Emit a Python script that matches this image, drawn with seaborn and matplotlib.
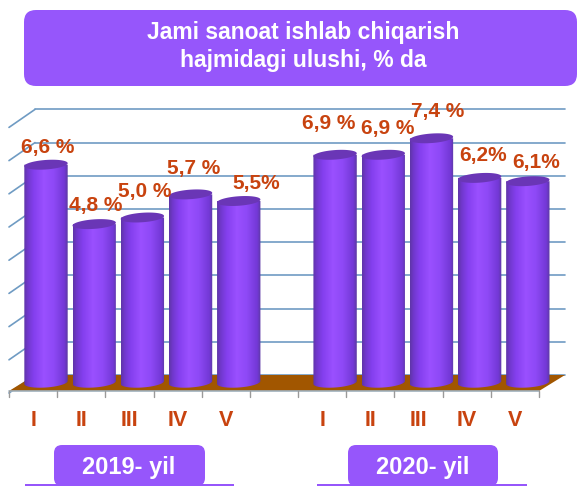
import numpy as np
import pandas as pd
import matplotlib
matplotlib.use('Agg')
import matplotlib.pyplot as plt
from matplotlib.colors import LinearSegmentedColormap
from matplotlib.patches import FancyBboxPatch, Polygon
import seaborn as sns

#%% data
quarters = ['I', 'II', 'III', 'IV', 'V']
values_2019 = [6.6, 4.8, 5.0, 5.7, 5.5]
values_2020 = [6.9, 6.9, 7.4, 6.2, 6.1]
labels_2019 = ['6,6 %', '4,8 %', '5,0 %', '5,7 %', '5,5%']
labels_2020 = ['6,9 %', '6,9 %', '7,4 %', '6,2%', '6,1%']
title_lines = ['Jami sanoat ishlab chiqarish', 'hajmidagi ulushi, % da']
grid_values = [0, 1, 2, 3, 4, 5, 6, 7, 8]

# label offsets from the bar top, in pixels
offsets_x = [2, 1.5, 2.5, 3, 17, -6, 4, 6, 3, 8]
offsets_y = [17, 19, 26, 26, 18, 31, 26, 27, 22, 19]

W, H = 578, 486
sns.set_theme(style='white')
plt.rcParams['font.family'] = ['Liberation Sans', 'DejaVu Sans']

fig = plt.figure(figsize=(W / 100, H / 100), dpi=100, facecolor='white')

#%% background in pixel coordinates
bg = fig.add_axes([0, 0, 1, 1], zorder=0)
bg.set_xlim(0, W)
bg.set_ylim(H, 0)
bg.axis('off')

purple = '#9656FB'
red = '#C8430F'
line_col = '#6F9BC3'
front_l, front_r, front_y = 9, 539, 391
back_l, back_r, back_y = 35, 565, 375
step = (front_r - front_l) / 11

bg.add_patch(Polygon([(front_l, front_y), (back_l, back_y), (back_r, back_y), (front_r, front_y)],
                     closed=True, fc='#A15600', ec='none', zorder=2))
for v in grid_values:
    y = back_y - v * 33.2
    bg.plot([back_l, back_r], [y, y], color=line_col, lw=1.2, zorder=1)
    bg.plot([front_l, back_l], [y + 18, y], color=line_col, lw=1.2, zorder=1)
bg.plot([front_l, front_r], [front_y, front_y], color='#9FB0BC', lw=1.2, zorder=3)
for i in range(12):
    x = front_l + i * step
    bg.plot([x, x], [front_y, front_y + 6], color='#9A9A9A', lw=1, zorder=3)

cats = quarters + [''] + quarters
for i, c in enumerate(cats):
    bg.text(front_l + (i + 0.5) * step, 420, c, color=red, fontsize=15.5, fontweight='bold',
            ha='center', va='center')


def box(x0, y0, x1, y1, r):
    bg.add_patch(FancyBboxPatch((x0 + r, y0 + r), x1 - x0 - 2 * r, y1 - y0 - 2 * r,
                                boxstyle='round,pad=%d,rounding_size=%d' % (r, r),
                                fc=purple, ec='none', zorder=4))


box(24, 10, 577, 86, 12)
bg.text(303, 33, title_lines[0], color='white', fontsize=16.5, fontweight='bold', ha='center', va='center', zorder=5)
bg.text(303, 61, title_lines[1], color='white', fontsize=16.5, fontweight='bold', ha='center', va='center', zorder=5)
box(54, 445, 205, 486, 8)
box(348, 445, 498, 486, 8)
bg.text(129, 467, '2019- yil', color='white', fontsize=17, fontweight='bold', ha='center', va='center', zorder=5)
bg.text(423, 467, '2020- yil', color='white', fontsize=17, fontweight='bold', ha='center', va='center', zorder=5)
bg.add_patch(plt.Rectangle((25, 484), 209, 2, fc=purple, ec='none', zorder=3))
bg.add_patch(plt.Rectangle((317, 484), 210, 2, fc=purple, ec='none', zorder=3))

#%% bars
df = pd.DataFrame({
    'pos': ['2019 ' + q for q in quarters] + ['gap'] + ['2020 ' + q for q in quarters],
    'value': values_2019 + [np.nan] + values_2020,
})
all_labels = labels_2019 + labels_2020

px_per_unit = 33.0
base_y = 382.5
y_low, y_high = -0.4, 8.4
ax_left = 46 - step / 2
ax = fig.add_axes([ax_left / W, (H - base_y + y_low * px_per_unit) / H,
                   step * 11 / W, (y_high - y_low) * px_per_unit / H], zorder=2)
ax.patch.set_alpha(0)
sns.barplot(data=df, x='pos', y='value', color=purple, width=0.9, ax=ax, saturation=1)
ax.set_xlim(-0.5, 10.5)
ax.set_ylim(y_low, y_high)
ax.axis('off')

body_cmap = LinearSegmentedColormap.from_list(
    'cyl', [(0, '#5F35A8'), (0.08, '#7038CC'), (0.22, '#843FEE'), (0.45, '#9A50FF'), (0.68, '#8E49F6'),
            (0.92, '#7338D6'), (1, '#5C3AA2')])
grad = np.linspace(0, 1, 128).reshape(1, -1)
t = np.linspace(0, 2 * np.pi, 80)
ry = 5 / px_per_unit
shear = 0.1  # slight tilt of the ellipses

bars = [p for p in ax.patches if p.get_height() > 0]
for b, lab, dx, dy in zip(bars, all_labels, offsets_x, offsets_y):
    x0, wd, h = b.get_x(), b.get_width(), b.get_height()
    cx, a = x0 + wd / 2, wd / 2
    b.set_visible(False)
    low = t[(t >= np.pi)]
    outline = [(x0, h)] + [(cx + a * np.cos(s), ry * np.sin(s) + shear * a * np.cos(s)) for s in low] + [(x0 + wd, h)]
    im = ax.imshow(grad, extent=[x0, x0 + wd, -2 * ry, h + ry], cmap=body_cmap, aspect='auto', zorder=3)
    clip = Polygon(outline, closed=True, transform=ax.transData, fc='none', ec='none')
    ax.add_patch(clip)
    im.set_clip_path(clip)
    ax.add_patch(Polygon(np.column_stack([cx + a * np.cos(t), h + ry * 0.95 * np.sin(t) + shear * a * np.cos(t)]),
                         closed=True, fc='#6A36B6', ec='none', zorder=4))
    ax.annotate(lab, (cx, h), xytext=(dx * 0.72, dy * 0.72), textcoords='offset points', color=red,
                fontsize=15, fontweight='bold', ha='center', va='center', zorder=6, annotation_clip=False)
ax.set_xlim(-0.5, 10.5)
ax.set_ylim(y_low, y_high)

fig.savefig('out.png', dpi=100)
